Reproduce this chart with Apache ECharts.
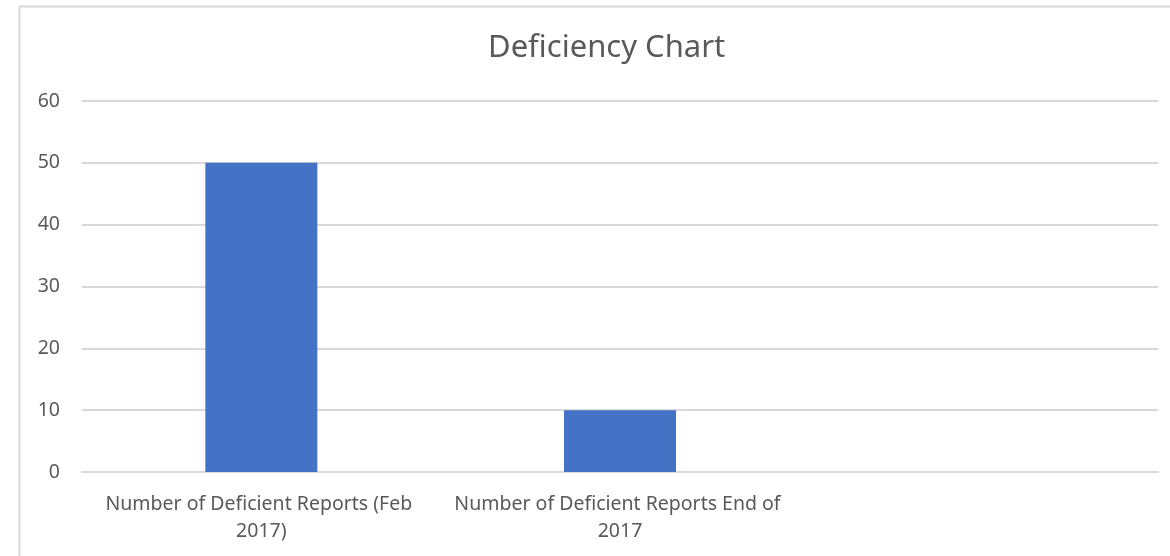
<!DOCTYPE html>
<html>
<head>
<meta charset="utf-8">
<script src="https://cdn.jsdelivr.net/npm/echarts@6/dist/echarts.min.js"></script>
<style>
  html, body { margin: 0; padding: 0; background: #fff; }
  #chart { width: 1170px; height: 556px; }
</style>
</head>
<body>
<div id="chart"></div>
<script>
var myChart = echarts.init(document.getElementById('chart'));

var categories = ['Number of Deficient Reports (Feb 2017)', 'Number of Deficient Reports End of 2017', ''];
var values = [50, 10, null];
var yTicks = { min: 0, max: 60, interval: 10 };

var textColor = '#595959';
var gridColor = '#d9d9d9';
var barColor = '#4472c4';
var font = 'Noto Sans';

myChart.setOption({
    backgroundColor: '#fff',
    animation: false,
    title: {
        text: 'Deficiency Chart',
        left: 483,
        top: 28,
        textStyle: {
            fontFamily: font,
            fontSize: 31,
            fontWeight: 'normal',
            color: textColor
        }
    },
    graphic: [{
        type: 'rect',
        shape: { x: 19.5, y: 6.5, width: 1200, height: 600 },
        style: { fill: 'none', stroke: gridColor, lineWidth: 2 },
        silent: true
    }],
    grid: {
        left: 82,
        right: 12,
        top: 101,
        bottom: 84
    },
    xAxis: {
        type: 'category',
        data: categories,
        axisLine: { show: true, lineStyle: { color: gridColor, width: 2 } },
        axisTick: { show: false },
        axisLabel: {
            interval: 0,
            margin: 19,
            width: 350,
            overflow: 'break',
            lineHeight: 27,
            fontFamily: font,
            fontSize: 19.5,
            color: textColor
        }
    },
    yAxis: {
        type: 'value',
        min: yTicks.min,
        max: yTicks.max,
        interval: yTicks.interval,
        axisLine: { show: false },
        axisTick: { show: false },
        splitLine: { lineStyle: { color: gridColor, width: 2 } },
        axisLabel: {
            margin: 22,
            fontFamily: font,
            fontSize: 19.5,
            color: textColor
        }
    },
    series: [{
        type: 'bar',
        data: values,
        barWidth: 112,
        itemStyle: { color: barColor }
    }]
});
</script>
</body>
</html>
